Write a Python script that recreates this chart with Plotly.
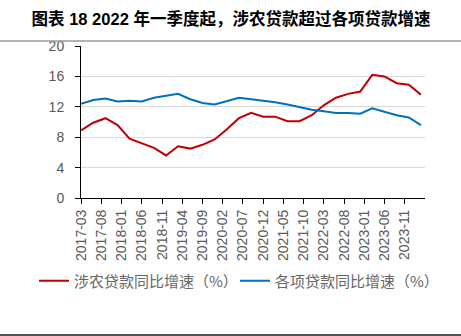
import plotly.graph_objects as go

# Quarterly observations, 2017-03 .. 2024-03
DATES = [
    "2017-03", "2017-06", "2017-09", "2017-12",
    "2018-03", "2018-06", "2018-09", "2018-12",
    "2019-03", "2019-06", "2019-09", "2019-12",
    "2020-03", "2020-06", "2020-09", "2020-12",
    "2021-03", "2021-06", "2021-09", "2021-12",
    "2022-03", "2022-06", "2022-09", "2022-12",
    "2023-03", "2023-06", "2023-09", "2023-12",
    "2024-03",
]
AGRI_LOANS = [
    8.9, 9.9, 10.5, 9.6,
    7.8, 7.2, 6.6, 5.6,
    6.8, 6.5, 7.0, 7.7,
    9.0, 10.5, 11.2, 10.7,
    10.7, 10.1, 10.1, 10.9,
    12.2, 13.2, 13.7, 14.0,
    16.2, 16.0, 15.1, 14.9,
    13.6,
]
ALL_LOANS = [
    12.4, 12.9, 13.1, 12.7,
    12.8, 12.7, 13.2, 13.5,
    13.7, 13.0, 12.5, 12.3,
    12.7, 13.2, 13.0, 12.8,
    12.6, 12.3, 11.9, 11.6,
    11.4, 11.2, 11.2, 11.1,
    11.8, 11.3, 10.9, 10.6,
    9.6,
]
TICK_LABELS = [
    "2017-03", "2017-08", "2018-01", "2018-06", "2018-11",
    "2019-04", "2019-09", "2020-02", "2020-07", "2020-12",
    "2021-05", "2021-10", "2022-03", "2022-08", "2023-01",
    "2023-06", "2023-11",
]
SERIES_NAMES = ["涉农贷款同比增速（%）", "各项贷款同比增速（%）"]
TITLE = "图表 18 2022 年一季度起，涉农贷款超过各项贷款增速"

x_dates = [d + "-01" for d in DATES]
tick_vals = [t + "-01" for t in TICK_LABELS]

W, H = 461, 336
ML, MR, MT, MB = 81, 36, 46, 138
PW, PH = W - ML - MR, H - MT - MB

def px_x(x):
    return (x - ML) / PW

def px_y(y):
    return (H - MB - y) / PH

fig = go.Figure()
fig.add_trace(go.Scatter(
    x=x_dates, y=AGRI_LOANS, name=SERIES_NAMES[0], mode="lines",
    line=dict(color="#C00000", width=2), legend="legend",
))
fig.add_trace(go.Scatter(
    x=x_dates, y=ALL_LOANS, name=SERIES_NAMES[1], mode="lines",
    line=dict(color="#0070C0", width=2), legend="legend2",
))

tick_font = dict(family="Liberation Sans, Arial, sans-serif", size=14, color="#595959")
legend_font = dict(family="Noto Sans CJK SC, sans-serif", size=15, color="#666666")

def legend_box(left_px):
    return dict(
        orientation="h", xref="container", x=left_px / W, xanchor="left",
        yref="container", y=1 - 281 / H, yanchor="middle",
        font=legend_font, bgcolor="rgba(0,0,0,0)",
    )

fig.update_layout(
    width=W, height=H,
    margin=dict(l=ML, r=MR, t=MT, b=MB, autoexpand=False),
    paper_bgcolor="white", plot_bgcolor="white",
    title=dict(
        text=TITLE, x=231 / W, xanchor="center", xref="container",
        y=1 - 19 / H, yanchor="middle", yref="container",
        font=dict(family="Liberation Sans, Noto Sans CJK SC, sans-serif",
                  size=16.5, color="black", weight="bold"),
    ),
    xaxis=dict(
        type="date",
        range=["2017-03-01", "2024-04-01"],
        tickvals=tick_vals, ticktext=TICK_LABELS,
        tickangle=-90, tickfont=tick_font, automargin=False,
        ticks="outside", ticklen=5, tickcolor="black", tickwidth=1,
        showline=True, linecolor="black", linewidth=1,
        showgrid=False, zeroline=False,
    ),
    yaxis=dict(
        range=[0, 20], dtick=4, tick0=0, automargin=False,
        tickfont=tick_font, ticklabelstandoff=8,
        ticks="outside", ticklen=5, tickcolor="black", tickwidth=1,
        showline=True, linecolor="black", linewidth=1,
        showgrid=True, gridcolor="#D9D9D9", gridwidth=1,
        zeroline=False,
    ),
    legend=legend_box(34),
    legend2=legend_box(235),
    showlegend=True,
    shapes=[
        dict(type="line", xref="paper", yref="paper",
             x0=px_x(0), x1=px_x(W), y0=px_y(41), y1=px_y(41),
             line=dict(color="#9A9A9A", width=1.5)),
        dict(type="line", xref="paper", yref="paper",
             x0=px_x(0), x1=px_x(W), y0=px_y(335), y1=px_y(335),
             line=dict(color="#555555", width=2)),
    ],
)

fig.write_html("out.html")
